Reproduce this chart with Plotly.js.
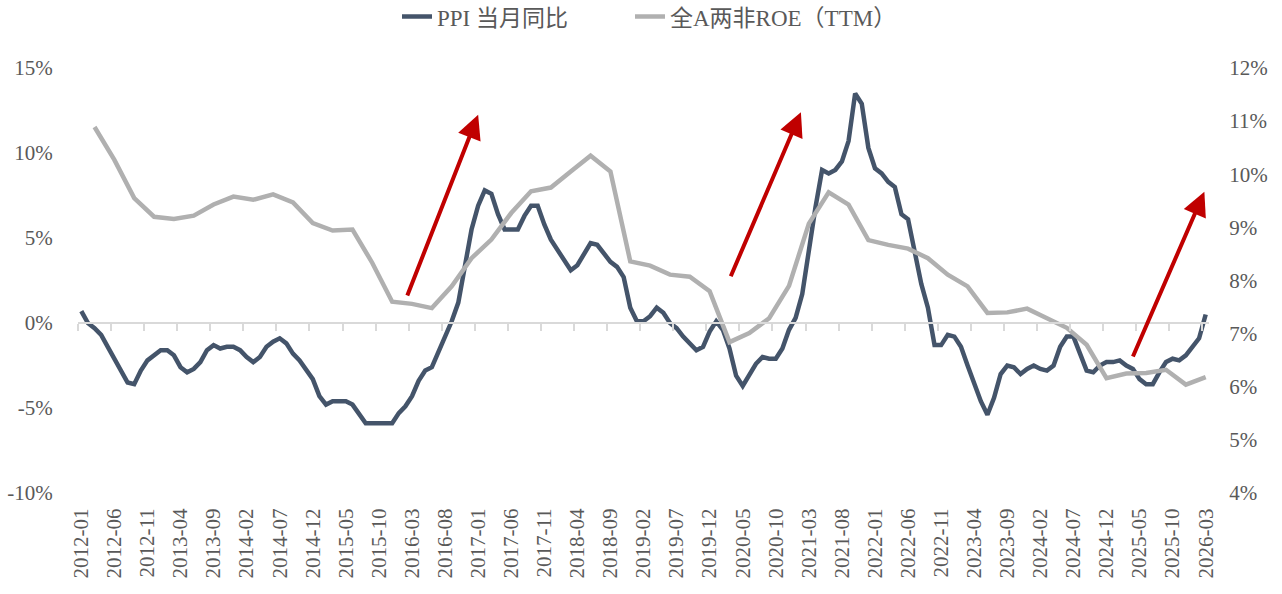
<!DOCTYPE html>
<html><head><meta charset="utf-8">
<script src="https://cdn.plot.ly/plotly-3.0.1.min.js"></script>
<style>html,body{margin:0;padding:0;background:#fff;}#chart{width:1282px;height:594px;}</style>
</head><body><div id="chart"></div>
<script>
// Monthly categories 2012-01 .. 2026-03
const months = [];
for (let y = 2012; y <= 2026; y++) {
  for (let m = 1; m <= 12; m++) {
    if (y === 2026 && m > 3) break;
    months.push(y + '-' + String(m).padStart(2, '0'));
  }
}

// PPI year-on-year (%), monthly
const ppi = [
  0.7, 0.0, -0.3, -0.7, -1.4, -2.1, -2.9, -3.5, -3.6, -2.8, -2.2, -1.9,
  -1.6, -1.6, -1.9, -2.6, -2.9, -2.7, -2.3, -1.6, -1.3, -1.5, -1.4, -1.4,
  -1.6, -2.0, -2.3, -2.0, -1.4, -1.1, -0.9, -1.2, -1.8, -2.2, -2.7, -3.3,
  -4.3, -4.8, -4.6, -4.6, -4.6, -4.8, -5.4, -5.9, -5.9, -5.9, -5.9, -5.9,
  -5.3, -4.9, -4.3, -3.4, -2.8, -2.6, -1.7, -0.8, 0.1, 1.2, 3.3, 5.5,
  6.9, 7.8, 7.6, 6.4, 5.5, 5.5, 5.5, 6.3, 6.9, 6.9, 5.8, 4.9,
  4.3, 3.7, 3.1, 3.4, 4.1, 4.7, 4.6, 4.1, 3.6, 3.3, 2.7, 0.9,
  0.1, 0.1, 0.4, 0.9, 0.6, 0.0, -0.3, -0.8, -1.2, -1.6, -1.4, -0.5,
  0.1, -0.4, -1.5, -3.1, -3.7, -3.0, -2.4, -2.0, -2.1, -2.1, -1.5, -0.4,
  0.3, 1.7, 4.4, 6.8, 9.0, 8.8, 9.0, 9.5, 10.7, 13.5, 12.9, 10.3,
  9.1, 8.8, 8.3, 8.0, 6.4, 6.1, 4.2, 2.3, 0.9, -1.3, -1.3, -0.7,
  -0.8, -1.4, -2.5, -3.6, -4.6, -5.4, -4.4, -3.0, -2.5, -2.6, -3.0, -2.7,
  -2.5, -2.7, -2.8, -2.5, -1.4, -0.8, -0.8, -1.8, -2.8, -2.9, -2.5, -2.3,
  -2.3, -2.2, -2.5, -2.7, -3.3, -3.6, -3.6, -2.9, -2.3, -2.1, -2.2, -1.9,
  -1.4, -0.9, 0.5
];

// ROE (TTM, %), quarterly (Mar/Jun/Sep/Dec)
const roeMonths = months.filter((m, i) => i % 3 === 2);
const roe = [
  10.89, 10.27, 9.55, 9.20,
  9.16, 9.22, 9.43, 9.58,
  9.52, 9.62, 9.47, 9.08,
  8.94, 8.96, 8.33, 7.60,
  7.56, 7.48, 7.89, 8.42,
  8.77, 9.27, 9.68, 9.75,
  10.05, 10.35, 10.05, 8.36,
  8.28, 8.11, 8.07, 7.80,
  6.84, 7.01, 7.29, 7.90,
  9.07, 9.66, 9.43, 8.76,
  8.67, 8.60, 8.42, 8.11,
  7.89, 7.39, 7.40, 7.47,
  7.29, 7.11, 6.79, 6.16,
  6.25, 6.26, 6.32, 6.04,
  6.18
];

const seriesNames = ['PPI 当月同比', '全A两非ROE（TTM）'];
const leftTicks = [-10, -5, 0, 5, 10, 15];
const leftTickText = ['-10%', '-5%', '0%', '5%', '10%', '15%'];
const rightTicks = [4, 5, 6, 7, 8, 9, 10, 11, 12];
const rightTickText = ['4%', '5%', '6%', '7%', '8%', '9%', '10%', '11%', '12%'];

// Arrow annotations: [tail month idx, tail value, tip month idx, tip value] on left axis
const arrows = [
  [49.2, 1.53, 60.0, 12.25],
  [98.1, 2.66, 108.8, 12.4],
  [158.9, -2.06, 169.8, 7.72]
];

const xIdx = months.map((m, i) => i);
const roeIdx = roeMonths.map(m => months.indexOf(m));
const labelIdx = xIdx.filter(i => i % 5 === 0);
const labelText = labelIdx.map(i => months[i]);
const boundaryTicks = labelIdx.map(i => i - 0.5);

const FONT = 'Liberation Serif, "Times New Roman", "Noto Sans CJK SC", serif';
const TXT = '#595959';

const traces = [
  {
    x: xIdx, y: ppi, name: seriesNames[0], type: 'scatter', mode: 'lines',
    line: {color: '#44546A', width: 4.5}, yaxis: 'y', xaxis: 'x', legend: 'legend'
  },
  {
    x: roeIdx, y: roe, name: seriesNames[1], type: 'scatter', mode: 'lines',
    line: {color: '#B0B0B0', width: 4.5}, yaxis: 'y2', xaxis: 'x', legend: 'legend2'
  },
  {
    x: [], y: [], xaxis: 'x2', yaxis: 'y', showlegend: false, hoverinfo: 'skip', type: 'scatter'
  }
];

const legendBase = {
  orientation: 'h', xref: 'container', yref: 'container', xanchor: 'left',
  y: 0.972, yanchor: 'middle',
  font: {family: FONT, size: 23, color: TXT}, bgcolor: 'rgba(0,0,0,0)'
};

const layout = {
  width: 1282, height: 594,
  margin: {l: 78, r: 73, t: 68, b: 101, pad: 0, autoexpand: false},
  paper_bgcolor: '#fff', plot_bgcolor: '#fff',
  font: {family: FONT, size: 20, color: TXT},
  showlegend: true,
  legend: Object.assign({}, legendBase, {x: 397 / 1282}),
  legend2: Object.assign({}, legendBase, {x: 630 / 1282}),
  xaxis: {
    type: 'linear', range: [-0.5, 170.5],
    tickmode: 'array', tickvals: labelIdx, ticktext: labelText,
    tickangle: -90, ticks: 'outside', ticklen: 6, tickcolor: 'rgba(0,0,0,0)',
    showline: false, showgrid: false, zeroline: false,
    tickfont: {family: FONT, size: 21, color: TXT}
  },
  xaxis2: {
    type: 'linear', range: [-0.5, 170.5], overlaying: 'x', anchor: 'free', position: 0.4,
    tickmode: 'array', tickvals: boundaryTicks, ticks: 'outside', ticklen: 7,
    tickcolor: '#D9D9D9', tickwidth: 2,
    showline: true, linecolor: '#D9D9D9', linewidth: 2,
    showticklabels: false, showgrid: false, zeroline: false
  },
  yaxis: {
    range: [-10, 15], tickmode: 'array', tickvals: leftTicks, ticktext: leftTickText,
    ticks: 'outside', ticklen: 20, tickcolor: 'rgba(0,0,0,0)',
    showgrid: false, zeroline: false, showline: false,
    tickfont: {family: FONT, size: 21, color: TXT}
  },
  yaxis2: {
    range: [4, 12], overlaying: 'y', side: 'right',
    tickmode: 'array', tickvals: rightTicks, ticktext: rightTickText,
    ticks: 'outside', ticklen: 15, tickcolor: 'rgba(0,0,0,0)',
    showgrid: false, zeroline: false, showline: false,
    tickfont: {family: FONT, size: 21, color: TXT}
  },
  annotations: arrows.map(a => ({
    xref: 'x', yref: 'y', axref: 'x', ayref: 'y',
    x: a[2], y: a[3], ax: a[0], ay: a[1],
    text: '', showarrow: true, arrowhead: 2, arrowsize: 1.2, arrowwidth: 4,
    arrowcolor: '#C00000', standoff: 0, startstandoff: 0
  }))
};

Plotly.newPlot('chart', traces, layout, {staticPlot: true, displayModeBar: false});
</script>
</body></html>
